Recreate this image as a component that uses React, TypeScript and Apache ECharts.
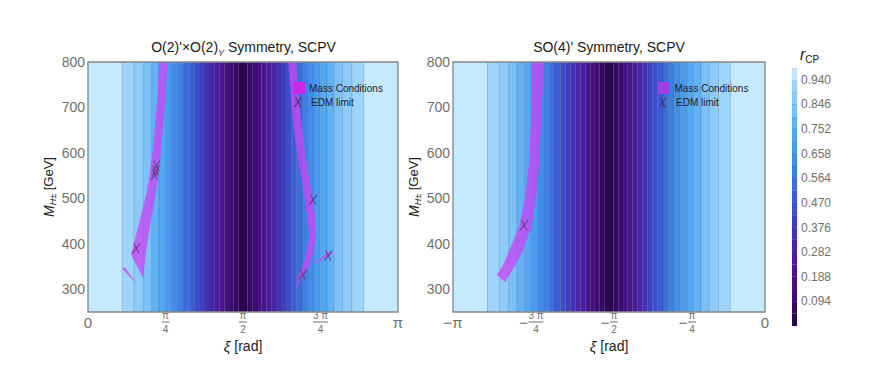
import React, { useEffect, useRef } from 'react';
import * as echarts from 'echarts';

const PI = Math.PI;
const FONT = '"Liberation Sans", Arial, sans-serif';
const TICK_C = '#707070';

// mass axis
const M_MIN = 250;
const M_MAX = 800;
const M_TICKS = [300, 400, 500, 600, 700, 800];

// colour bar (r_CP)
const R_MAX = 0.985;
const R_LEVELS = [0, 0.047, 0.094, 0.141, 0.188, 0.235, 0.282, 0.329, 0.376, 0.423, 0.47, 0.517, 0.564, 0.611, 0.658, 0.705, 0.752, 0.799, 0.846, 0.893, 0.94];
const R_TICKS = [0.094, 0.188, 0.282, 0.376, 0.47, 0.564, 0.658, 0.752, 0.846, 0.94];

// xi (rad) of the contour boundaries between 0 and pi/2 (levels 0.940 ... 0.047)
const XI_EDGES = [0.348, 0.468, 0.562, 0.645, 0.720, 0.788, 0.853, 0.914, 0.972, 1.027, 1.082, 1.134, 1.185, 1.236, 1.285, 1.334, 1.382, 1.429, 1.477, 1.524];

const BAND_COLORS = ['#2b0750', '#350a62', '#3e0c72', '#461083', '#4a1591', '#4a1c9d', '#4726a7', '#4333b3', '#3f40bf', '#3d4ecb', '#3b5ed5', '#3c6fdd', '#3e7fe4', '#438eeb', '#4a9cf0', '#52a8f3', '#62b3f6', '#7cc2f9', '#8ccbfa', '#9fd5fb', '#c6eafd'];

// x ticks (multiples of pi/4)
const XI_TICKS_L = [0, PI / 4, PI / 2, (3 * PI) / 4, PI];
const XI_TICKS_R = [-PI, (-3 * PI) / 4, -PI / 2, -PI / 4, 0];

// Mass-condition regions [xi, M]
const MASS_L_A = [[0.723, 800], [0.706, 732], [0.679, 659], [0.646, 585], [0.595, 512], [0.510, 439], [0.436, 376], [0.560, 325], [0.585, 380], [0.628, 439], [0.689, 512], [0.730, 585], [0.763, 659], [0.787, 732], [0.808, 800]];
const MASS_L_A2 = [[0.342, 346], [0.375, 348], [0.486, 314], [0.456, 320]];
const MASS_L_B = [[2.030, 800], [2.054, 732], [2.081, 659], [2.131, 585], [2.189, 512], [2.216, 468], [2.243, 417], [2.199, 365], [2.176, 351], [2.131, 329], [2.108, 302], [2.182, 329], [2.243, 351], [2.283, 380], [2.311, 417], [2.300, 468], [2.267, 512], [2.209, 585], [2.166, 659], [2.131, 732], [2.108, 800]];
const MASS_L_B2 = [[2.283, 355], [2.452, 384], [2.483, 379], [2.311, 357]];
const MASS_R = [[-2.349, 800], [-2.349, 732], [-2.359, 659], [-2.373, 585], [-2.407, 512], [-2.474, 439], [-2.585, 380], [-2.641, 351], [-2.702, 332], [-2.618, 316], [-2.517, 351], [-2.450, 380], [-2.349, 439], [-2.299, 512], [-2.273, 585], [-2.256, 659], [-2.239, 732], [-2.232, 800]];

// EDM limit points [xi, M]
const EDM_L = [[0.490, 390], [0.692, 572], [0.680, 552], [0.686, 561], [2.283, 497], [2.435, 374], [2.176, 332]];
const EDM_R = [[-2.424, 441]];

const MASS_FILL = 'rgba(200,70,245,0.78)';
const X_SYMBOL = 'path://M2.5,0 L8,10 M9.5,0 L1,10';

function makeBands(offset: number) {
  const n = XI_EDGES.length;
  const edges = [0, ...XI_EDGES, ...XI_EDGES.slice().reverse().map((e) => PI - e), PI].map((e) => e + offset);
  const out: number[][] = [];
  for (let i = 0; i < edges.length - 1; i++) {
    const idx = i <= n ? n - i : i - n;
    out.push([edges[i], edges[i + 1], idx]);
  }
  return out;
}

function barBands() {
  return R_LEVELS.map((lo, k) => [lo, k < R_LEVELS.length - 1 ? R_LEVELS[k + 1] : R_MAX, k]);
}

function fracLabel(k: number) {
  const a = Math.abs(k);
  const neg = k < 0;
  if (a === 0) return '{big|0}';
  if (a === 4) return neg ? '{big|−π}' : '{big|π}';
  const num = a === 3 ? '{n3|3 π}' : '{n1|π}';
  const bar = a === 3 ? '{b3| }' : '{b1| }';
  const den = a === 2 ? '{n1|2}' : '{n1|4}';
  if (!neg) return `${num}\n${bar}\n${den}`;
  return `{sp| }${num}\n{m|−}${bar}\n{sp| }${den}`;
}

const xRich = {
  big: { fontSize: 15, lineHeight: 24, color: TICK_C, fontFamily: FONT },
  n1: { fontSize: 10, lineHeight: 10, width: 8, align: 'center', color: TICK_C, fontFamily: FONT },
  n3: { fontSize: 10, lineHeight: 10, width: 15, align: 'center', color: TICK_C, fontFamily: FONT },
  b1: { width: 8, height: 1, lineHeight: 4, backgroundColor: TICK_C, fontSize: 4 },
  b3: { width: 15, height: 1, lineHeight: 4, backgroundColor: TICK_C, fontSize: 4 },
  m: { fontSize: 15, lineHeight: 4, width: 10, align: 'center', color: TICK_C, fontFamily: FONT },
  sp: { width: 10, lineHeight: 10, fontSize: 10 },
};

function bandSeries(idx: number, offset: number) {
  return {
    type: 'custom',
    xAxisIndex: idx,
    yAxisIndex: idx,
    silent: true,
    z: 1,
    data: makeBands(offset),
    renderItem: (params: any, api: any) => {
      const p0 = api.coord([api.value(0), M_MAX]);
      const p1 = api.coord([api.value(1), M_MIN]);
      return {
        type: 'rect',
        shape: { x: p0[0], y: p0[1], width: p1[0] - p0[0], height: p1[1] - p0[1] },
        style: { fill: BAND_COLORS[api.value(2)], stroke: 'rgba(30,30,80,0.22)', lineWidth: 0.7 },
      };
    },
  };
}

function polySeries(idx: number, pts: number[][]) {
  return {
    type: 'custom',
    name: 'Mass Conditions',
    xAxisIndex: idx,
    yAxisIndex: idx,
    silent: true,
    z: 3,
    data: pts,
    renderItem: (params: any, api: any) => {
      if (params.dataIndex !== 0) return { type: 'group', children: [] };
      return {
        type: 'polygon',
        shape: { points: pts.map((p) => api.coord(p)) },
        style: { fill: MASS_FILL },
      };
    },
  };
}

function frameSeries(idx: number, x0: number, x1: number) {
  return {
    type: 'custom',
    xAxisIndex: idx,
    yAxisIndex: idx,
    silent: true,
    z: 10,
    data: [[x0, M_MAX, x1, M_MIN]],
    renderItem: (params: any, api: any) => {
      const p0 = api.coord([api.value(0), api.value(1)]);
      const p1 = api.coord([api.value(2), api.value(3)]);
      return {
        type: 'rect',
        shape: { x: p0[0], y: p0[1], width: p1[0] - p0[0], height: p1[1] - p0[1] },
        style: { fill: 'none', stroke: '#8c8c8c', lineWidth: 1.3 },
      };
    },
  };
}

function edmSeries(idx: number, pts: number[][]) {
  return {
    type: 'scatter',
    name: 'EDM limit',
    xAxisIndex: idx,
    yAxisIndex: idx,
    z: 5,
    silent: true,
    symbol: X_SYMBOL,
    symbolSize: [8, 10],
    itemStyle: { color: 'rgba(0,0,0,0)', borderColor: 'rgba(70,45,95,0.9)', borderWidth: 1.1 },
    data: pts,
  };
}

function xAxis(idx: number, min: number, max: number, ticks: number[]) {
  return {
    type: 'value',
    gridIndex: idx,
    min,
    max,
    name: '{i|ξ} [rad]',
    nameLocation: 'middle',
    nameGap: 21,
    nameTextStyle: {
      fontSize: 14,
      color: '#222',
      fontFamily: FONT,
      rich: { i: { fontStyle: 'italic', fontSize: 15, color: '#222', fontFamily: FONT } },
    },
    axisLine: { show: false },
    axisTick: { show: false },
    splitLine: { show: false },
    axisLabel: {
      customValues: ticks,
      margin: 10,
      verticalAlign: 'middle',
      formatter: (v: number) => fracLabel(Math.round(v / (PI / 4))),
      rich: xRich,
    },
  };
}

function yAxis(idx: number) {
  return {
    type: 'value',
    gridIndex: idx,
    min: M_MIN,
    max: M_MAX,
    name: '{i|M}{s|H±} [GeV]',
    nameLocation: 'middle',
    nameGap: 26,
    nameRotate: 90,
    nameTextStyle: {
      fontSize: 13,
      color: '#222',
      fontFamily: FONT,
      rich: {
        i: { fontStyle: 'italic', fontSize: 14, color: '#222', fontFamily: FONT },
        s: { fontStyle: 'italic', fontSize: 9, color: '#222', fontFamily: FONT, verticalAlign: 'bottom', lineHeight: 18 },
      },
    },
    axisLine: { show: false },
    axisTick: { show: false },
    splitLine: { show: false },
    axisLabel: {
      customValues: M_TICKS,
      margin: 3,
      fontSize: 14,
      color: TICK_C,
      fontFamily: FONT,
    },
  };
}

function legendGraphics(sx: number, sy: number, sqColor: string, tx: number, xc: number, yc: number, tx2: number) {
  return [
    { type: 'rect', z: 100, shape: { x: sx, y: sy, width: 12, height: 12 }, style: { fill: sqColor } },
    { type: 'text', z: 100, x: tx, y: sy + 6.5, style: { text: 'Mass Conditions', fontSize: 10, fontFamily: FONT, fill: '#222', align: 'left', verticalAlign: 'middle' } },
    { type: 'line', z: 100, shape: { x1: xc - 2.5, y1: yc - 5, x2: xc + 2.5, y2: yc + 5 }, style: { stroke: 'rgba(70,45,95,0.9)', lineWidth: 1.1 } },
    { type: 'line', z: 100, shape: { x1: xc + 3.5, y1: yc - 5, x2: xc - 3.5, y2: yc + 5 }, style: { stroke: 'rgba(70,45,95,0.9)', lineWidth: 1.1 } },
    { type: 'text', z: 100, x: tx2, y: yc, style: { text: 'EDM limit', fontSize: 10, fontFamily: FONT, fill: '#222', align: 'left', verticalAlign: 'middle' } },
  ];
}

const option: any = {
  animation: false,
  backgroundColor: '#ffffff',
  grid: [
    { left: 88, top: 62, width: 310, height: 250 },
    { left: 453, top: 62, width: 312, height: 250 },
    { left: 792, top: 68, width: 5, height: 258 },
  ],
  xAxis: [
    xAxis(0, 0, PI, XI_TICKS_L),
    xAxis(1, -PI, 0, XI_TICKS_R),
    { type: 'value', gridIndex: 2, min: 0, max: 1, show: false },
  ],
  yAxis: [
    yAxis(0),
    yAxis(1),
    {
      type: 'value',
      gridIndex: 2,
      min: 0,
      max: R_MAX,
      position: 'right',
      axisLine: { show: false },
      splitLine: { show: false },
      axisTick: { show: true, customValues: R_TICKS, length: 3, lineStyle: { color: '#777', width: 1 } },
      axisLabel: {
        customValues: R_TICKS,
        margin: 4,
        fontSize: 12,
        color: TICK_C,
        fontFamily: FONT,
        formatter: (v: number) => v.toFixed(3),
      },
    },
  ],
  series: [
    bandSeries(0, 0),
    bandSeries(1, -PI),
    {
      type: 'custom',
      xAxisIndex: 2,
      yAxisIndex: 2,
      silent: true,
      data: barBands(),
      renderItem: (params: any, api: any) => {
        const p0 = api.coord([0, api.value(1)]);
        const p1 = api.coord([1, api.value(0)]);
        return {
          type: 'rect',
          shape: { x: p0[0], y: p0[1], width: p1[0] - p0[0], height: p1[1] - p0[1] },
          style: { fill: BAND_COLORS[api.value(2)], stroke: 'rgba(30,30,80,0.15)', lineWidth: 0.5 },
        };
      },
    },
    polySeries(0, MASS_L_A),
    polySeries(0, MASS_L_A2),
    polySeries(0, MASS_L_B),
    polySeries(0, MASS_L_B2),
    polySeries(1, MASS_R),
    edmSeries(0, EDM_L),
    edmSeries(1, EDM_R),
    frameSeries(0, 0, PI),
    frameSeries(1, -PI, 0),
  ],
  graphic: [
    {
      type: 'text',
      z: 100,
      x: 243.5,
      y: 47,
      style: {
        text: "O(2)'×O(2){y|Y} Symmetry, SCPV",
        fontSize: 14,
        fontFamily: FONT,
        fill: '#1a1a1a',
        align: 'center',
        verticalAlign: 'middle',
        rich: { y: { fontSize: 9, fontStyle: 'italic', fontFamily: FONT, fill: '#1a1a1a', verticalAlign: 'bottom', lineHeight: 20 } },
      },
    },
    {
      type: 'text',
      z: 100,
      x: 609,
      y: 47,
      style: { text: "SO(4)' Symmetry, SCPV", fontSize: 14, fontFamily: FONT, fill: '#1a1a1a', align: 'center', verticalAlign: 'middle' },
    },
    {
      type: 'text',
      z: 100,
      x: 800,
      y: 54,
      style: {
        text: '{r|r}{s|CP}',
        align: 'left',
        verticalAlign: 'middle',
        rich: {
          r: { fontSize: 16, fontStyle: 'italic', fontFamily: FONT, fill: '#1a1a1a', lineHeight: 20 },
          s: { fontSize: 10, fontFamily: FONT, fill: '#1a1a1a', verticalAlign: 'bottom', lineHeight: 20 },
        },
      },
    },
    ...legendGraphics(293, 82, '#c828e8', 309, 298, 102, 311),
    ...legendGraphics(658, 82, '#a63ee6', 674.5, 662.5, 102.5, 676),
  ],
};

export default function App() {
  const ref = useRef<HTMLDivElement>(null);
  useEffect(() => {
    const chart = echarts.init(ref.current as HTMLDivElement, null, { renderer: 'svg' });
    chart.setOption(option);
    return () => chart.dispose();
  }, []);
  return <div ref={ref} style={{ position: 'absolute', left: 0, top: 0, width: 880, height: 384, background: '#fff' }} />;
}
